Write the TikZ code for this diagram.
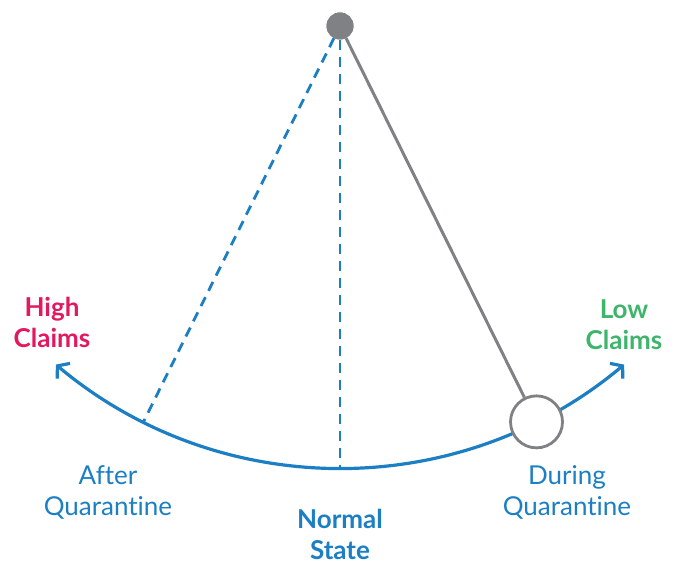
\documentclass[tikz,border=0pt]{standalone}
\usepackage{fontspec}
\setmainfont{Lato}[Ligatures={NoCommon}]
\usetikzlibrary{arrows.meta,calc}
\definecolor{pblue}{HTML}{1C7FC3}
\definecolor{pgray}{HTML}{808184}
\definecolor{ppink}{HTML}{E2195E}
\definecolor{pgreen}{HTML}{3DB56B}
\begin{document}
\begin{tikzpicture}[x=1pt,y=1pt,
  lbl/.style={align=center,inner sep=0pt,font=\fontsize{26}{31}\selectfont},
  blbl/.style={lbl,font=\fontsize{26}{31}\selectfont\bfseries},
  dashline/.style={draw=pblue,line width=2.8pt,dash pattern=on 10pt off 7pt},
  swing/.style={draw=pblue,line width=3.2pt,{Straight Barb[length=8pt,width=20pt,line width=3.2pt]}-{Straight Barb[length=8pt,width=20pt,line width=3.2pt]}},
  rod/.style={draw=pgray,line width=3pt}]
\useasboundingbox (0,0) rectangle (678,564);
\node[circle,fill=pgray,minimum size=27pt,inner sep=0pt] (pivot) at (340,538) {};
\coordinate (bottom) at ($(pivot)+(-90:442)$);
\coordinate (leftend) at ($(pivot)+(-116.4:442)$);
\coordinate (arcstart) at ($(pivot)+(-130:442)$);
% dashed lines
\draw[dashline] (pivot) -- (bottom);
\draw[dashline] (pivot) -- (leftend);
% swing arc
\draw[swing] (arcstart) arc[start angle=-130,end angle=-50,radius=442];
% ball and rod
\node[circle,draw=pgray,line width=2.8pt,fill=white,minimum size=52pt,inner sep=0pt] (ball) at ($(pivot)+(-63.6:442)$) {};
\draw[rod] (pivot) -- (ball);
\node[circle,fill=pgray,minimum size=27pt,inner sep=0pt] at (pivot) {};
% labels
\node[blbl,text=ppink] (high) at (52,242) {High\\Claims};
\node[blbl,text=pgreen] (low) at (624,239) {Low\\Claims};
\node[lbl,text=pblue] (after) at (108,72) {After\\Quarantine};
\node[blbl,text=pblue] (normal) at (340,30) {Normal\\State};
\node[lbl,text=pblue] (during) at (567,72) {During\\Quarantine};
\end{tikzpicture}
\end{document}
